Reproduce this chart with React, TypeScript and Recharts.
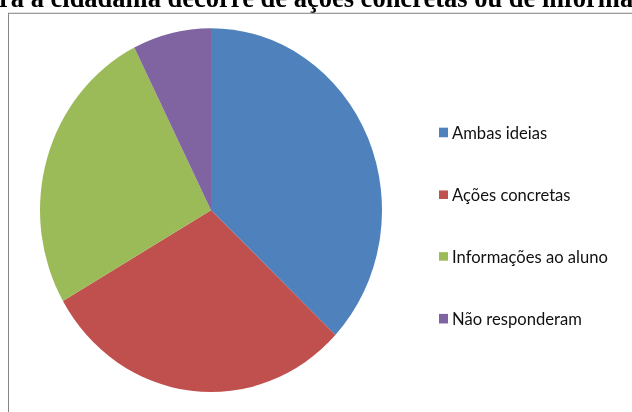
import React from "react";
import { PieChart, Pie, Cell, Legend } from "recharts";

const categories = ["Ambas ideias", "Ações concretas", "Informações ao aluno", "Não responderam"];
const values = [10, 8, 7, 2];
const colors = ["#4F81BD", "#C0504D", "#9BBB59", "#8064A2"];
const titleText = "ra a cidadania decorre de ações concretas ou de informações ao aluno?";

const data = categories.map((name, i) => ({ name, value: values[i] }));

const SY = 1.064;

const LegendContent = (props: any) => {
  const payload = props.payload || [];
  return (
    <div style={{ fontFamily: "Lato, 'Open Sans', sans-serif", fontSize: 16.6, color: "#111" }}>
      {payload.map((p: any, i: number) => (
        <div key={i} style={{ height: 58.2, display: "flex", alignItems: "center" }}>
          <span style={{ display: "inline-block", width: 9, height: 8.7, background: p.color, marginRight: 4 }} />
          <span style={{ lineHeight: "18px" }}>{p.value}</span>
        </div>
      ))}
    </div>
  );
};

export default function App() {
  return (
    <div style={{ position: "absolute", left: 0, top: 0, width: 632, height: 412, overflow: "hidden", background: "#fff" }}>
      <div style={{ position: "absolute", left: 0, top: 0, width: 632, height: 412 / SY, transform: `scaleY(${SY})`, transformOrigin: "0 0" }}>
        <div
          style={{
            position: "absolute",
            left: -1,
            top: -15.4,
            whiteSpace: "nowrap",
            fontFamily: "'Liberation Serif', 'Times New Roman', serif",
            fontWeight: "bold",
            fontSize: 26.5,
            lineHeight: 1,
            color: "#000",
          }}
        >
          {titleText}
        </div>
        <div style={{ position: "absolute", left: 8, top: 12.2, width: 800, height: 600, border: "1px solid #868686", boxSizing: "border-box" }} />
        <div style={{ position: "absolute", left: 0, top: 0 }}>
          <PieChart width={632} height={387} margin={{ top: 0, right: 0, bottom: 0, left: 0 }}>
            <Pie
              data={data}
              dataKey="value"
              nameKey="name"
              cx={211}
              cy={197.5}
              outerRadius={171}
              startAngle={90}
              endAngle={-270}
              stroke="none"
              isAnimationActive={false}
            >
              {data.map((d, i) => (
                <Cell key={d.name} fill={colors[i]} />
              ))}
            </Pie>
            <Legend
              layout="vertical"
              content={<LegendContent />}
              wrapperStyle={{ position: "absolute", left: 439, top: 95.6, width: 190 }}
            />
          </PieChart>
        </div>
      </div>
    </div>
  );
}
